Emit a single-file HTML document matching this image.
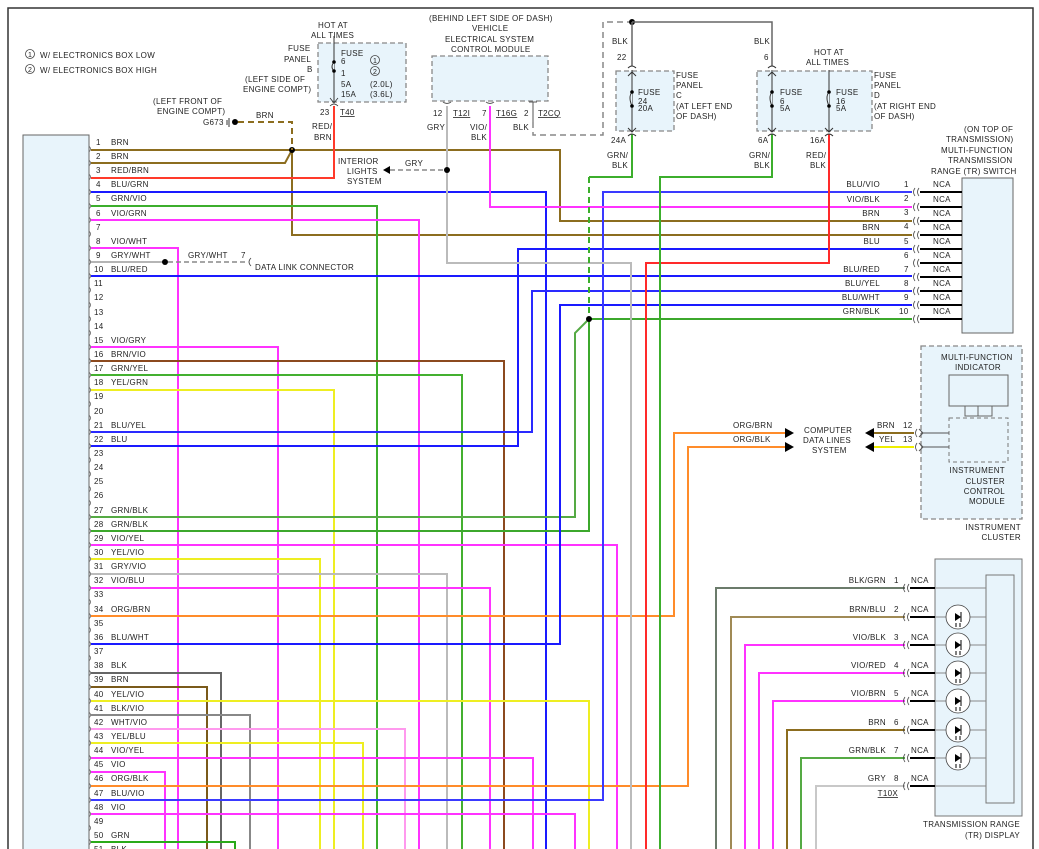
<!DOCTYPE html>
<html><head><meta charset="utf-8"><style>
html,body{margin:0;padding:0;background:#fff;}
svg{display:block;}
text{font-family:"Liberation Sans",sans-serif;font-size:8px;fill:#222;letter-spacing:0.3px;}
.w{fill:none;stroke-width:2;}
.d{fill:none;stroke:#888;stroke-width:1.5;stroke-dasharray:5,3;}
.u{text-decoration:underline;}
</style></head><body>
<svg width="1039" height="849" viewBox="0 0 1039 849" xmlns="http://www.w3.org/2000/svg">
<rect x="0" y="0" width="1039" height="849" fill="#fff"/>
<path d="M8 849 V8 H1033 V849" fill="none" stroke="#333" stroke-width="1.5"/>

<!-- notes -->
<circle cx="30" cy="54" r="4.5" fill="none" stroke="#444" stroke-width="0.8"/><text x="28" y="57" style="font-size:7px">1</text>
<text x="40" y="58">W/ ELECTRONICS BOX LOW</text>
<circle cx="30" cy="69" r="4.5" fill="none" stroke="#444" stroke-width="0.8"/><text x="28" y="72" style="font-size:7px">2</text>
<text x="40" y="73">W/ ELECTRONICS BOX HIGH</text>

<!-- left connector box -->
<rect x="23" y="135" width="66" height="720" fill="#e8f4fb" stroke="#666" stroke-width="1"/>

<!-- pin labels -->
<g>
<text x="96" y="145">1</text><text x="111" y="145">BRN</text>
<text x="96" y="159">2</text><text x="111" y="159">BRN</text>
<text x="96" y="173">3</text><text x="111" y="173">RED/BRN</text>
<text x="96" y="187">4</text><text x="111" y="187">BLU/GRN</text>
<text x="96" y="201">5</text><text x="111" y="201">GRN/VIO</text>
<text x="96" y="216">6</text><text x="111" y="216">VIO/GRN</text>
<text x="96" y="230">7</text>
<text x="96" y="244">8</text><text x="111" y="244">VIO/WHT</text>
<text x="96" y="258">9</text><text x="111" y="258">GRY/WHT</text>
<text x="94" y="272">10</text><text x="111" y="272">BLU/RED</text>
<text x="94" y="286">11</text><text x="94" y="300">12</text><text x="94" y="315">13</text><text x="94" y="329">14</text>
<text x="94" y="343">15</text><text x="111" y="343">VIO/GRY</text>
<text x="94" y="357">16</text><text x="111" y="357">BRN/VIO</text>
<text x="94" y="371">17</text><text x="111" y="371">GRN/YEL</text>
<text x="94" y="385">18</text><text x="111" y="385">YEL/GRN</text>
<text x="94" y="399">19</text><text x="94" y="414">20</text>
<text x="94" y="428">21</text><text x="111" y="428">BLU/YEL</text>
<text x="94" y="442">22</text><text x="111" y="442">BLU</text>
<text x="94" y="456">23</text><text x="94" y="470">24</text><text x="94" y="484">25</text><text x="94" y="498">26</text>
<text x="94" y="513">27</text><text x="111" y="513">GRN/BLK</text>
<text x="94" y="527">28</text><text x="111" y="527">GRN/BLK</text>
<text x="94" y="541">29</text><text x="111" y="541">VIO/YEL</text>
<text x="94" y="555">30</text><text x="111" y="555">YEL/VIO</text>
<text x="94" y="569">31</text><text x="111" y="569">GRY/VIO</text>
<text x="94" y="583">32</text><text x="111" y="583">VIO/BLU</text>
<text x="94" y="597">33</text>
<text x="94" y="612">34</text><text x="111" y="612">ORG/BRN</text>
<text x="94" y="626">35</text>
<text x="94" y="640">36</text><text x="111" y="640">BLU/WHT</text>
<text x="94" y="654">37</text>
<text x="94" y="668">38</text><text x="111" y="668">BLK</text>
<text x="94" y="682">39</text><text x="111" y="682">BRN</text>
<text x="94" y="697">40</text><text x="111" y="697">YEL/VIO</text>
<text x="94" y="711">41</text><text x="111" y="711">BLK/VIO</text>
<text x="94" y="725">42</text><text x="111" y="725">WHT/VIO</text>
<text x="94" y="739">43</text><text x="111" y="739">YEL/BLU</text>
<text x="94" y="753">44</text><text x="111" y="753">VIO/YEL</text>
<text x="94" y="767">45</text><text x="111" y="767">VIO</text>
<text x="94" y="781">46</text><text x="111" y="781">ORG/BLK</text>
<text x="94" y="796">47</text><text x="111" y="796">BLU/VIO</text>
<text x="94" y="810">48</text><text x="111" y="810">VIO</text>
<text x="94" y="824">49</text>
<text x="94" y="838">50</text><text x="111" y="838">GRN</text>
<text x="94" y="852">51</text><text x="111" y="852">BLK</text>
</g>
<!-- pin brackets -->
<path d="M89 146 q3 3 0 6 M89 160 q3 3 0 6 M89 174 q3 3 0 6 M89 189 q3 3 0 6 M89 203 q3 3 0 6 M89 217 q3 3 0 6 M89 231 q3 3 0 6 M89 245 q3 3 0 6 M89 259 q3 3 0 6 M89 273 q3 3 0 6 M89 287 q3 3 0 6 M89 302 q3 3 0 6 M89 316 q3 3 0 6 M89 330 q3 3 0 6 M89 344 q3 3 0 6 M89 358 q3 3 0 6 M89 372 q3 3 0 6 M89 387 q3 3 0 6 M89 401 q3 3 0 6 M89 415 q3 3 0 6 M89 429 q3 3 0 6 M89 443 q3 3 0 6 M89 457 q3 3 0 6 M89 471 q3 3 0 6 M89 486 q3 3 0 6 M89 500 q3 3 0 6 M89 514 q3 3 0 6 M89 528 q3 3 0 6 M89 542 q3 3 0 6 M89 556 q3 3 0 6 M89 571 q3 3 0 6 M89 585 q3 3 0 6 M89 599 q3 3 0 6 M89 613 q3 3 0 6 M89 627 q3 3 0 6 M89 641 q3 3 0 6 M89 655 q3 3 0 6 M89 670 q3 3 0 6 M89 684 q3 3 0 6 M89 698 q3 3 0 6 M89 712 q3 3 0 6 M89 726 q3 3 0 6 M89 740 q3 3 0 6 M89 755 q3 3 0 6 M89 769 q3 3 0 6 M89 783 q3 3 0 6 M89 797 q3 3 0 6 M89 811 q3 3 0 6 M89 825 q3 3 0 6 M89 839 q3 3 0 6" fill="none" stroke="#666" stroke-width="0.8"/>

<!-- wires -->
<g class="w">
<polyline stroke="#8c6d1f" points="91,150 560,150 560,221 912,221"/>
<polyline stroke="#8c6d1f" points="91,163 285,163 292,150"/>
<polyline stroke="#8c6d1f" points="292,150 292,235 912,235"/>
<polyline stroke="#ff3a2a" points="91,178 334,178 334,106"/>
<polyline stroke="#1a1aff" points="91,192 546,192 546,849"/>
<polyline stroke="#3cae2c" points="91,206 377,206 377,849"/>
<polyline stroke="#ff33ff" points="91,220 419,220 419,849"/>
<polyline stroke="#ff33ff" points="91,248 178,248 178,849"/>
<polyline stroke="#b5b5b5" points="91,262 165,262"/>
<polyline stroke="#1a1aff" points="91,276 912,276"/>
<polyline stroke="#ff33ff" points="91,347 278,347 278,849"/>
<polyline stroke="#8c4a1f" points="91,361 504,361 504,849"/>
<polyline stroke="#44b030" points="91,375 462,375 462,849"/>
<polyline stroke="#eeee22" points="91,390 334,390 334,849"/>
<polyline stroke="#2a2aff" points="91,432 532,432 532,291 912,291"/>
<polyline stroke="#1a1aff" points="91,446 518,446 518,249 912,249"/>
<polyline stroke="#55aa44" points="91,517 575,517 575,333 589,319"/>
<polyline stroke="#3ca82c" points="91,531 589,531 589,319 912,319"/>
<polyline stroke="#ff33ff" points="91,545 617,545 617,849"/>
<polyline stroke="#eeee22" points="91,559 320,559 320,849"/>
<polyline stroke="#bbbbbb" points="91,574 447,574 447,849"/>
<polyline stroke="#ff33ff" points="91,588 490,588 490,849"/>
<polyline stroke="#ff8c2a" points="91,616 674,616 674,433 785,433"/>
<polyline stroke="#1a1aff" points="91,644 560,644 560,305 912,305"/>
<polyline stroke="#666" points="91,673 221,673 221,849"/>
<polyline stroke="#7a5a1a" points="91,687 207,687 207,849"/>
<polyline stroke="#eeee22" points="91,701 589,701 589,849"/>
<polyline stroke="#888" points="91,715 250,715 250,849"/>
<polyline stroke="#ff99ee" points="91,729 405,729 405,849"/>
<polyline stroke="#eeee22" points="91,743 363,743 363,849"/>
<polyline stroke="#ff33ff" points="91,758 533,758 533,849"/>
<polyline stroke="#ff33ff" points="91,772 165,772 165,849"/>
<polyline stroke="#ff8c2a" points="91,786 688,786 688,447 785,447"/>
<polyline stroke="#3a3aff" points="91,800 603,800 603,192 912,192"/>
<polyline stroke="#ff33ff" points="91,814 575,814 575,849"/>
<polyline stroke="#2aaa1a" points="91,842 235,842 235,849"/>
<polyline stroke="#ff33ff" points="490,106 490,207 912,207"/>
<polyline stroke="#bbbbbb" points="447,106 447,263 631,263 631,849"/>
<polyline stroke="#ff2a2a" points="829,134 829,263 646,263 646,849"/>
<polyline stroke="#3cae2c" points="772,134 772,177 660,177 660,849"/>
<polyline stroke="#3cae2c" points="632,134 632,177 589,177"/>
</g>
<line x1="589" y1="177" x2="589" y2="319" stroke="#3cae2c" stroke-width="2" stroke-dasharray="6,4"/>
<circle cx="292" cy="150" r="3" fill="#000"/>
<circle cx="589" cy="319" r="3" fill="#000"/>
<circle cx="165" cy="262" r="3" fill="#000"/>
<circle cx="447" cy="170" r="3" fill="#000"/>

<!-- G673 -->
<text x="153" y="104">(LEFT FRONT OF</text>
<text x="157" y="114">ENGINE COMPT)</text>
<text x="203" y="125">G673</text>
<path d="M227 120 v5 M229 118 v9" stroke="#333" stroke-width="1"/>
<circle cx="235" cy="122" r="3" fill="#000"/>
<path d="M238 122 H292 V150" fill="none" stroke="#8c6d1f" stroke-width="2" stroke-dasharray="6,4"/>
<text x="256" y="118">BRN</text>

<!-- data link -->
<line x1="168" y1="262" x2="246" y2="262" class="d"/>
<text x="188" y="258">GRY/WHT</text><text x="241" y="258">7</text>
<path d="M251 258 q-4 4 0 8" fill="none" stroke="#444" stroke-width="0.8"/>
<text x="255" y="270">DATA LINK CONNECTOR</text>

<!-- interior lights -->
<line x1="390" y1="170" x2="444" y2="170" class="d"/>
<polygon points="383,170 390,166 390,174" fill="#000"/>
<text x="405" y="166">GRY</text>
<text x="338" y="164">INTERIOR</text><text x="347" y="174">LIGHTS</text><text x="347" y="184">SYSTEM</text>

<!-- Fuse panel B -->
<text x="318" y="28">HOT AT</text><text x="311" y="38">ALL TIMES</text>
<rect x="318" y="43" width="88" height="59" fill="#e8f4fb" stroke="#888" stroke-width="1.3" stroke-dasharray="5,3"/>
<line x1="334" y1="36" x2="334" y2="102" stroke="#333" stroke-width="1"/>
<path d="M334 62 q-4 5 0 9" fill="#e8f4fb" stroke="#333" stroke-width="1"/>
<circle cx="334" cy="62" r="1.8" fill="#000"/><circle cx="334" cy="71" r="1.8" fill="#000"/>
<path d="M330 98 l4 5 l4 -5 M330 106 q4 -4 8 0" fill="none" stroke="#333" stroke-width="0.8"/>
<text x="341" y="56">FUSE</text><text x="341" y="64">6</text><text x="341" y="76">1</text><text x="341" y="87">5A</text><text x="341" y="97">15A</text>
<circle cx="375" cy="60" r="4.5" fill="none" stroke="#444" stroke-width="0.8"/><text x="373" y="63" style="font-size:7px">1</text>
<circle cx="375" cy="71" r="4.5" fill="none" stroke="#444" stroke-width="0.8"/><text x="373" y="74" style="font-size:7px">2</text>
<text x="370" y="87">(2.0L)</text><text x="370" y="97">(3.6L)</text>
<text x="288" y="51">FUSE</text><text x="284" y="62">PANEL</text><text x="307" y="72">B</text>
<text x="245" y="82">(LEFT SIDE OF</text><text x="243" y="92">ENGINE COMPT)</text>
<text x="320" y="115">23</text><text x="340" y="115" class="u">T40</text>
<text x="312" y="129">RED/</text><text x="314" y="140">BRN</text>

<!-- ECM -->
<text x="429" y="21">(BEHIND LEFT SIDE OF DASH)</text>
<text x="472" y="31">VEHICLE</text>
<text x="445" y="42">ELECTRICAL SYSTEM</text>
<text x="451" y="52">CONTROL MODULE</text>
<rect x="432" y="56" width="116" height="45" fill="#e8f4fb" stroke="#888" stroke-width="1.3" stroke-dasharray="5,3"/>
<path d="M443 102 q4 3 8 0 M486 102 q4 3 8 0 M529 102 l8 0 M533 102 v20" fill="none" stroke="#555" stroke-width="1"/>
<text x="433" y="116">12</text><text x="453" y="116" class="u">T12I</text>
<text x="482" y="116">7</text><text x="496" y="116" class="u">T16G</text>
<text x="524" y="116">2</text><text x="538" y="116" class="u">T2CQ</text>
<text x="427" y="130">GRY</text>
<text x="470" y="130">VIO/</text><text x="471" y="140">BLK</text>
<text x="513" y="130">BLK</text>
<path d="M533 122 V135 H603 V22 H629" fill="none" stroke="#888" stroke-width="1.5" stroke-dasharray="6,4"/>

<!-- Fuse C / D top -->
<circle cx="632" cy="22" r="3" fill="#000"/>
<path d="M632 22 H772 V66 M632 22 V66" fill="none" stroke="#666" stroke-width="1.5"/>
<text x="612" y="44">BLK</text><text x="617" y="60">22</text>
<text x="754" y="44">BLK</text><text x="764" y="60">6</text>
<text x="814" y="55">HOT AT</text><text x="806" y="65">ALL TIMES</text>
<rect x="616" y="71" width="58" height="60" fill="#e8f4fb" stroke="#888" stroke-width="1.3" stroke-dasharray="5,3"/>
<rect x="757" y="71" width="115" height="60" fill="#e8f4fb" stroke="#888" stroke-width="1.3" stroke-dasharray="5,3"/>
<g stroke="#333" stroke-width="1" fill="none">
<line x1="632" y1="70" x2="632" y2="132"/><line x1="772" y1="70" x2="772" y2="132"/><line x1="829" y1="70" x2="829" y2="132"/>
<path d="M628 68 q4 -4 8 0 M768 68 q4 -4 8 0 M628 128 l4 4 l4 -4 M768 128 l4 4 l4 -4 M825 128 l4 4 l4 -4 M628 136 q4 -4 8 0 M768 136 q4 -4 8 0 M825 136 q4 -4 8 0 M628 76 l4 -4 l4 4 M768 76 l4 -4 l4 4"/>
<path d="M632 92 q-4 5 0 14 M772 92 q-4 5 0 14 M829 92 q-4 5 0 14" fill="#e8f4fb"/>
</g>
<circle cx="632" cy="92" r="1.8" fill="#000"/><circle cx="632" cy="106" r="1.8" fill="#000"/>
<circle cx="772" cy="92" r="1.8" fill="#000"/><circle cx="772" cy="106" r="1.8" fill="#000"/>
<circle cx="829" cy="92" r="1.8" fill="#000"/><circle cx="829" cy="106" r="1.8" fill="#000"/>
<text x="638" y="95">FUSE</text><text x="638" y="104">24</text><text x="638" y="111">20A</text>
<text x="780" y="95">FUSE</text><text x="780" y="104">6</text><text x="780" y="111">5A</text>
<text x="836" y="95">FUSE</text><text x="836" y="104">16</text><text x="836" y="111">5A</text>
<text x="676" y="78">FUSE</text><text x="676" y="88">PANEL</text><text x="676" y="98">C</text><text x="676" y="109">(AT LEFT END</text><text x="676" y="119">OF DASH)</text>
<text x="874" y="78">FUSE</text><text x="874" y="88">PANEL</text><text x="874" y="98">D</text><text x="874" y="109">(AT RIGHT END</text><text x="874" y="119">OF DASH)</text>
<text x="611" y="143">24A</text><text x="607" y="158">GRN/</text><text x="612" y="168">BLK</text>
<text x="758" y="143">6A</text><text x="749" y="158">GRN/</text><text x="754" y="168">BLK</text>
<text x="810" y="143">16A</text><text x="806" y="158">RED/</text><text x="810" y="168">BLK</text>

<!-- TR switch -->
<text x="964" y="132">(ON TOP OF</text><text x="946" y="142">TRANSMISSION)</text><text x="941" y="153">MULTI-FUNCTION</text><text x="948" y="163">TRANSMISSION</text><text x="931" y="174">RANGE (TR) SWITCH</text>
<rect x="962" y="178" width="51" height="155" fill="#e8f4fb" stroke="#666" stroke-width="1"/>
<g stroke="#000" stroke-width="2">
<line x1="920" y1="192" x2="962" y2="192"/><line x1="920" y1="207" x2="962" y2="207"/><line x1="920" y1="221" x2="962" y2="221"/><line x1="920" y1="235" x2="962" y2="235"/><line x1="920" y1="249" x2="962" y2="249"/><line x1="920" y1="263" x2="962" y2="263"/><line x1="920" y1="277" x2="962" y2="277"/><line x1="920" y1="291" x2="962" y2="291"/><line x1="920" y1="305" x2="962" y2="305"/><line x1="920" y1="319" x2="962" y2="319"/>
</g>
<g fill="none" stroke="#444" stroke-width="0.8">
<path d="M915 188 q-3 4 0 8 M919 188 q-3 4 0 8 M915 203 q-3 4 0 8 M919 203 q-3 4 0 8 M915 217 q-3 4 0 8 M919 217 q-3 4 0 8 M915 231 q-3 4 0 8 M919 231 q-3 4 0 8 M915 245 q-3 4 0 8 M919 245 q-3 4 0 8 M915 259 q-3 4 0 8 M919 259 q-3 4 0 8 M915 273 q-3 4 0 8 M919 273 q-3 4 0 8 M915 287 q-3 4 0 8 M919 287 q-3 4 0 8 M915 301 q-3 4 0 8 M919 301 q-3 4 0 8 M915 315 q-3 4 0 8 M919 315 q-3 4 0 8"/>
</g>
<g>
<text x="933" y="187">NCA</text><text x="933" y="202">NCA</text><text x="933" y="216">NCA</text><text x="933" y="230">NCA</text><text x="933" y="244">NCA</text><text x="933" y="258">NCA</text><text x="933" y="272">NCA</text><text x="933" y="286">NCA</text><text x="933" y="300">NCA</text><text x="933" y="314">NCA</text>
<text x="904" y="187">1</text><text x="904" y="201">2</text><text x="904" y="215">3</text><text x="904" y="229">4</text><text x="904" y="244">5</text><text x="904" y="258">6</text><text x="904" y="272">7</text><text x="904" y="286">8</text><text x="904" y="300">9</text><text x="899" y="314">10</text>
</g>
<g text-anchor="end">
<text x="880" y="187">BLU/VIO</text><text x="880" y="202">VIO/BLK</text><text x="880" y="216">BRN</text><text x="880" y="230">BRN</text><text x="880" y="244">BLU</text><text x="880" y="272">BLU/RED</text><text x="880" y="286">BLU/YEL</text><text x="880" y="300">BLU/WHT</text><text x="880" y="314">GRN/BLK</text>
</g>

<!-- computer data lines -->
<polygon points="785,428 794,433 785,438" fill="#000"/>
<polygon points="785,442 794,447 785,452" fill="#000"/>
<text x="733" y="428">ORG/BRN</text><text x="733" y="442">ORG/BLK</text>
<text x="804" y="433">COMPUTER</text><text x="803" y="443">DATA LINES</text><text x="812" y="453">SYSTEM</text>
<polygon points="865,433 874,428 874,438" fill="#000"/>
<polygon points="865,447 874,442 874,452" fill="#000"/>
<line x1="874" y1="433" x2="914" y2="433" stroke="#8c6d1f" stroke-width="2"/>
<line x1="874" y1="447" x2="914" y2="447" stroke="#eeee00" stroke-width="2"/>
<text x="877" y="428">BRN</text><text x="903" y="428">12</text><text x="879" y="442">YEL</text><text x="903" y="442">13</text>
<rect x="921" y="346" width="101" height="173" fill="#e8f4fb" stroke="#888" stroke-width="1.3" stroke-dasharray="5,3"/>
<text x="941" y="360">MULTI-FUNCTION</text><text x="955" y="370">INDICATOR</text>
<rect x="949" y="375" width="59" height="31" fill="#e8f4fb" stroke="#666" stroke-width="1"/>
<path d="M965 406 v10 h13 v-10 M978 416 h14 v-10" fill="none" stroke="#666" stroke-width="1"/>
<rect x="949" y="418" width="59" height="44" fill="none" stroke="#777" stroke-width="1" stroke-dasharray="4,3"/>
<path d="M921 433 H949 M921 447 H949 M919 429 l4 4 l-4 4 M919 443 l4 4 l-4 4" fill="none" stroke="#555" stroke-width="1"/>
<path d="M917 429 q-3 4 0 8 M917 443 q-3 4 0 8" fill="none" stroke="#444" stroke-width="0.8"/>
<g text-anchor="end"><text x="1005" y="473">INSTRUMENT</text><text x="1005" y="484">CLUSTER</text><text x="1005" y="494">CONTROL</text><text x="1005" y="504">MODULE</text>
<text x="1021" y="530">INSTRUMENT</text><text x="1021" y="540">CLUSTER</text></g>

<!-- TR display -->
<rect x="935" y="559" width="87" height="257" fill="#e8f4fb" stroke="#777" stroke-width="1"/>
<rect x="986" y="575" width="28" height="228" fill="#e8f4fb" stroke="#777" stroke-width="1"/>
<g class="w">
<polyline stroke="#6b7b6b" points="716,849 716,588 905,588"/>
<polyline stroke="#a08a55" points="731,849 731,617 905,617"/>
<polyline stroke="#ff33ff" points="745,849 745,645 905,645"/>
<polyline stroke="#ff33ff" points="759,849 759,673 905,673"/>
<polyline stroke="#ff33ff" points="773,849 773,701 905,701"/>
<polyline stroke="#8c6d1f" points="787,849 787,730 905,730"/>
<polyline stroke="#55aa44" points="801,849 801,758 905,758"/>
<polyline stroke="#c8c8c8" points="816,849 816,786 905,786"/>
</g>
<g stroke="#000" stroke-width="2">
<line x1="910" y1="588" x2="935" y2="588"/><line x1="910" y1="617" x2="935" y2="617"/><line x1="910" y1="645" x2="935" y2="645"/><line x1="910" y1="673" x2="935" y2="673"/><line x1="910" y1="701" x2="935" y2="701"/><line x1="910" y1="730" x2="935" y2="730"/><line x1="910" y1="758" x2="935" y2="758"/><line x1="910" y1="786" x2="935" y2="786"/>
</g>
<g stroke="#888" stroke-width="1">
<line x1="935" y1="588" x2="986" y2="588"/><line x1="935" y1="617" x2="986" y2="617"/><line x1="935" y1="645" x2="986" y2="645"/><line x1="935" y1="673" x2="986" y2="673"/><line x1="935" y1="701" x2="986" y2="701"/><line x1="935" y1="730" x2="986" y2="730"/><line x1="935" y1="758" x2="986" y2="758"/><line x1="935" y1="786" x2="986" y2="786"/>
</g>
<g fill="none" stroke="#444" stroke-width="0.8">
<path d="M905 584 q-3 4 0 8 M909 584 q-3 4 0 8 M905 613 q-3 4 0 8 M909 613 q-3 4 0 8 M905 641 q-3 4 0 8 M909 641 q-3 4 0 8 M905 669 q-3 4 0 8 M909 669 q-3 4 0 8 M905 697 q-3 4 0 8 M909 697 q-3 4 0 8 M905 726 q-3 4 0 8 M909 726 q-3 4 0 8 M905 754 q-3 4 0 8 M909 754 q-3 4 0 8 M905 782 q-3 4 0 8 M909 782 q-3 4 0 8"/>
</g>
<g fill="#fff" stroke="#444" stroke-width="0.8">
<circle cx="958" cy="617" r="12"/><circle cx="958" cy="645" r="12"/><circle cx="958" cy="673" r="12"/><circle cx="958" cy="701" r="12"/><circle cx="958" cy="730" r="12"/><circle cx="958" cy="758" r="12"/>
</g>
<g fill="#000">
<path d="M955 613 l6 4 l-6 4z M955 641 l6 4 l-6 4z M955 669 l6 4 l-6 4z M955 697 l6 4 l-6 4z M955 726 l6 4 l-6 4z M955 754 l6 4 l-6 4z"/>
</g>
<g stroke="#000" stroke-width="1">
<path d="M961 612 v10 M956 623 v4 M960 623 v4 M961 640 v10 M956 651 v4 M960 651 v4 M961 668 v10 M956 679 v4 M960 679 v4 M961 696 v10 M956 707 v4 M960 707 v4 M961 725 v10 M956 736 v4 M960 736 v4 M961 753 v10 M956 764 v4 M960 764 v4"/>
</g>
<g><text x="911" y="583">NCA</text><text x="911" y="612">NCA</text><text x="911" y="640">NCA</text><text x="911" y="668">NCA</text><text x="911" y="696">NCA</text><text x="911" y="725">NCA</text><text x="911" y="753">NCA</text><text x="911" y="781">NCA</text>
<text x="894" y="583">1</text><text x="894" y="612">2</text><text x="894" y="640">3</text><text x="894" y="668">4</text><text x="894" y="696">5</text><text x="894" y="725">6</text><text x="894" y="753">7</text><text x="894" y="781">8</text></g>
<g text-anchor="end"><text x="886" y="583">BLK/GRN</text><text x="886" y="612">BRN/BLU</text><text x="886" y="640">VIO/BLK</text><text x="886" y="668">VIO/RED</text><text x="886" y="696">VIO/BRN</text><text x="886" y="725">BRN</text><text x="886" y="753">GRN/BLK</text><text x="886" y="781">GRY</text>
<text x="898" y="796" class="u">T10X</text>
<text x="1020" y="827">TRANSMISSION RANGE</text><text x="1020" y="838">(TR) DISPLAY</text></g>
</svg>
</body></html>
